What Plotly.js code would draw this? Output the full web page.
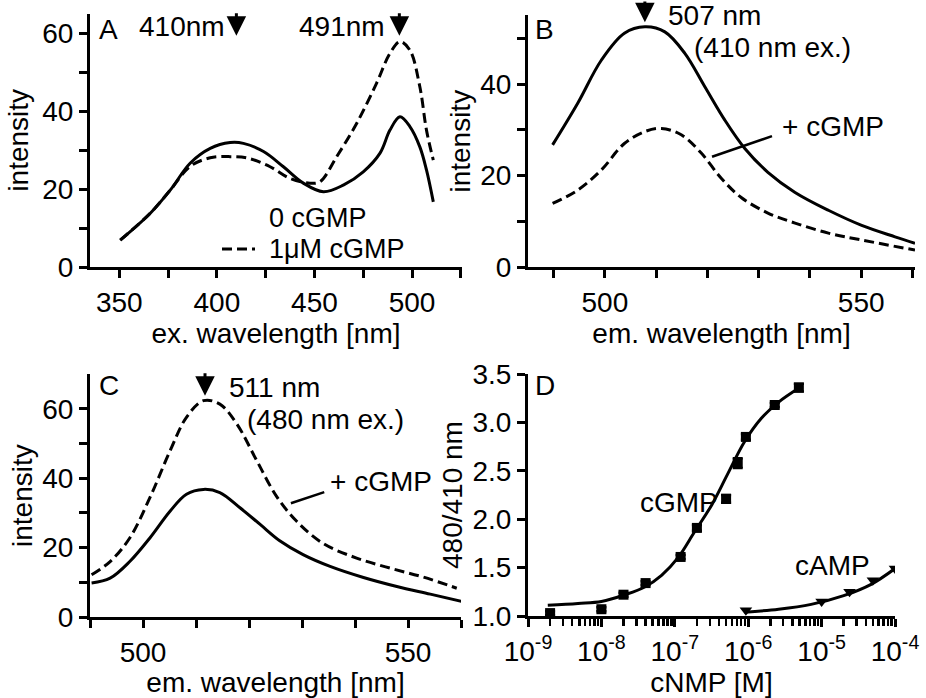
<!DOCTYPE html>
<html><head><meta charset="utf-8">
<script src="https://cdn.plot.ly/plotly-3.0.1.min.js"></script>
<style>html,body{margin:0;padding:0;background:#fff}#chart{width:926px;height:698px}</style>
</head><body><div id="chart"></div>
<script>
// ---- Panel A: excitation spectra ----
const exWavelength0 = [350.5,365.9,376.1,386.3,396.6,406.8,413.6,423.9,434.1,444.3,454.6,464.8,475.0,483.6,488.7,493.8,498.9,504.0,507.4,510.9];
const exIntensity0  = [6.9,13.8,19.7,26.6,30.4,31.9,31.7,29.6,25.7,21.5,19.3,21.0,24.4,29.2,35.1,38.5,36.0,30.8,24.9,16.7];
const exWavelength1 = [350.5,365.9,376.1,386.3,396.6,406.8,416.0,427.3,437.5,447.7,452.9,461.4,471.6,481.8,488.7,493.8,498.9,504.0,507.4,510.9];
const exIntensity1  = [6.9,13.8,19.7,25.8,28.0,28.3,27.9,25.7,22.7,21.5,21.9,28.3,36.8,47.1,54.8,57.8,55.6,46.2,35.1,27.4];
const exPeaks = [410, 493.5];
const axATickVals = [350,375,400,425,450,475,500,525];
const axATickText = ['350','','400','','450','','500',''];
const intTickVals = [0,10,20,30,40,50,60];
const intTickText = ['0','','20','','40','','60'];
const intTickValsB = [0,10,20,30,40,50];
const intTickTextB = ['0','','20','','40',''];

// ---- Panel B: emission, 410 nm excitation ----
const emB_x0 = [489.8,494.7,499.3,503.8,507.8,511.7,515.6,519.5,523.4,527.3,531.8,537.1,543.6,550.1,556.6,560.5];
const emB_y0 = [26.7,35.8,45.2,51.1,52.5,51.4,46.7,39.4,32.1,25.9,20.7,16.3,12.4,9.1,6.6,5.2];
const emB_x1 = [489.8,494.7,499.3,503.8,507.8,511.0,514.9,518.8,522.7,526.6,531.8,537.1,543.6,550.1,560.5];
const emB_y1 = [13.9,16.8,21.2,27.0,29.6,30.3,28.9,24.9,19.4,15.2,11.8,9.6,7.4,5.9,3.7];
const emBPeak = 507.8;
const emTickVals = [490,500,510,520,530,540,550,560];
const emTickText = ['','500','','','','','550',''];

// ---- Panel C: emission, 480 nm excitation ----
const emC_x0 = [490.3,493.8,497.5,501.3,505.1,508.2,511.4,514.5,518.3,522.1,525.8,530.2,535.3,541.6,547.9,554.2,560.4];
const emC_y0 = [9.8,11.2,16.0,22.8,30.5,35.4,36.8,35.9,31.5,26.7,22.0,18.0,14.6,11.4,8.8,6.6,4.4];
const emC_x1 = [490.3,493.8,497.5,501.3,505.1,508.2,511.4,514.5,517.7,521.5,525.2,529.0,534.0,540.3,546.6,552.9,559.2];
const emC_y1 = [12.2,16.0,22.8,34.4,47.9,57.6,62.4,61.4,55.7,45.0,34.8,27.6,21.2,17.0,14.1,11.5,8.3];
const emCPeak = 511.7;

// ---- Panel D: titration ----
const cGMPconc  = [2e-9,1e-8,2e-8,4e-8,1.2e-7,2e-7,5e-7,7.2e-7,9.3e-7,2.3e-6,4.9e-6];
const cGMPratio = [1.03,1.07,1.22,1.34,1.61,1.91,2.21,2.58,2.85,3.18,3.36];
const cGMPerr   = [0.02,0.02,0.02,0.02,0.02,0.03,0.04,0.05,0.03,0.02,0.04];
const cGMPfitX  = [1.86e-9,4.8e-9,1e-8,2.1e-8,3.9e-8,6.6e-8,1.1e-7,1.86e-7,3.2e-7,5.2e-7,8.9e-7,1.5e-6,2.6e-6,4.8e-6];
const cGMPfitY  = [1.11,1.13,1.15,1.22,1.30,1.42,1.60,1.87,2.15,2.46,2.80,3.04,3.21,3.35];
const cAMPconc  = [9.3e-7,1e-5,2.4e-5,5e-5,1e-4];
const cAMPratio = [1.06,1.15,1.25,1.37,1.49];
const cAMPfitX  = [8.9e-7,2.6e-6,7.2e-6,2.0e-5,4.8e-5,1.0e-4];
const cAMPfitY  = [1.04,1.07,1.12,1.21,1.33,1.49];
const logTickVals = [1e-9,1e-8,1e-7,1e-6,1e-5,1e-4];
const logTickText = ['10<sup>-9</sup>','10<sup>-8</sup>','10<sup>-7</sup>','10<sup>-6</sup>','10<sup>-5</sup>','10<sup>-4</sup>'];

const FONT = 'Liberation Sans, Arial, sans-serif';
const FS = 28;
const W = 926, H = 698;
const PX = x => x / W, PY = y => 1 - y / H;

const solid = {color:'#000', width:3, shape:'spline', smoothing:1};
const dashed = {color:'#000', width:3, dash:'10px,5px', shape:'spline', smoothing:1};

const traces = [
  {x:exWavelength0, y:exIntensity0, mode:'lines', line:solid, xaxis:'x', yaxis:'y'},
  {x:exWavelength1, y:exIntensity1, mode:'lines', line:dashed, xaxis:'x', yaxis:'y'},
  {x:emB_x0, y:emB_y0, mode:'lines', line:solid, xaxis:'x2', yaxis:'y2'},
  {x:emB_x1, y:emB_y1, mode:'lines', line:dashed, xaxis:'x2', yaxis:'y2'},
  {x:emC_x0, y:emC_y0, mode:'lines', line:solid, xaxis:'x3', yaxis:'y3'},
  {x:emC_x1, y:emC_y1, mode:'lines', line:dashed, xaxis:'x3', yaxis:'y3'},
  {x:cGMPfitX, y:cGMPfitY, mode:'lines', line:{color:'#000', width:3, shape:'spline', smoothing:1}, xaxis:'x4', yaxis:'y4'},
  {x:cAMPfitX, y:cAMPfitY, mode:'lines', line:{color:'#000', width:3, shape:'spline', smoothing:1}, xaxis:'x4', yaxis:'y4'},
  {x:cGMPconc, y:cGMPratio, mode:'markers', marker:{symbol:'square', size:10, color:'#000'},
   error_y:{type:'data', array:cGMPerr, visible:true, color:'#000', thickness:2.5, width:5}, xaxis:'x4', yaxis:'y4'},
  {x:cAMPconc, y:cAMPratio, mode:'markers', marker:{symbol:'triangle-down', size:11, color:'#000'}, xaxis:'x4', yaxis:'y4'}
];

function ax(extra){
  return Object.assign({
    showline:true, linewidth:3, linecolor:'#000', ticks:'outside', ticklen:8, tickwidth:3, tickcolor:'#000',
    showgrid:false, zeroline:false, tickfont:{family:FONT, size:FS, color:'#000'}, automargin:false, fixedrange:true
  }, extra);
}
const ttl = (t, s) => ({text:t, font:{family:FONT, size:FS, color:'#000'}, standoff:s});

const layout = {
  width:W, height:H, margin:{l:0,r:0,t:0,b:0}, showlegend:false,
  paper_bgcolor:'#fff', plot_bgcolor:'rgba(0,0,0,0)', font:{family:FONT, size:FS, color:'#000'},
  xaxis: ax({domain:[PX(90),PX(462)], range:[335,525.6], tickmode:'array', tickvals:axATickVals, ticktext:axATickText, anchor:'y', title:ttl('ex. wavelength [nm]', 6)}),
  yaxis: ax({domain:[PY(267),PY(13.5)], range:[0,65], tickmode:'array', tickvals:intTickVals, ticktext:intTickText, anchor:'x', title:ttl('intensity', 6)}),
  xaxis2: ax({domain:[PX(528),PX(915)], range:[485,560.5], tickmode:'array', tickvals:emTickVals, ticktext:emTickText, anchor:'y2', title:ttl('em. wavelength [nm]', 2)}),
  yaxis2: ax({domain:[PY(267),PY(15.4)], range:[0,55], tickmode:'array', tickvals:intTickValsB, ticktext:intTickTextB, anchor:'x2', title:ttl('intensity', 2)}),
  xaxis3: ax({domain:[PX(90),PX(461)], range:[490,560], tickmode:'array', tickvals:emTickVals, ticktext:emTickText, anchor:'y3', title:ttl('em. wavelength [nm]', 2)}),
  yaxis3: ax({domain:[PY(617),PY(374.3)], range:[0,70], tickmode:'array', tickvals:intTickVals, ticktext:intTickText, anchor:'x3', title:ttl('intensity', 2)}),
  xaxis4: ax({domain:[PX(528),PX(895)], type:'log', range:[-9,-4], tickmode:'array', tickvals:logTickVals, ticktext:logTickText,
              minor:{ticks:'outside', ticklen:7, tickwidth:2.5, tickcolor:'#000', dtick:'D1', showgrid:false}, anchor:'y4', title:ttl('cNMP [M]', 2)}),
  yaxis4: ax({domain:[PY(616),PY(374)], range:[1,3.5], dtick:0.5, tick0:1, tickformat:'.1f', anchor:'x4', title:ttl('480/410 nm', 2)}),
  shapes: [
    {type:'line', xref:'paper', yref:'paper', x0:PX(222), x1:PX(255), y0:PY(249), y1:PY(249), line:{color:'#000', width:3, dash:'10px,5px'}},
    {type:'line', xref:'x2', yref:'y2', x0:520.9, x1:532.6, y0:24.1, y1:28.6, line:{color:'#000', width:2.5}},
    {type:'line', xref:'x3', yref:'y3', x0:527.9, x1:534.2, y0:32.8, y1:36.0, line:{color:'#000', width:2.5}}
  ],
  annotations: []
};

const A = layout.annotations;
function txt(t, x, y, xanchor, fs){ A.push({text:t, xref:'paper', yref:'paper', x:PX(x), y:PY(y), xanchor:xanchor||'center', yanchor:'middle', showarrow:false, font:{family:FONT, size:fs||FS, color:'#000'}}); }
function arrow(xr, yr, xv, yv){ A.push({text:'', xref:xr, yref:yr, x:xv, y:yv, showarrow:true, ax:0, ay:-24, arrowhead:2, arrowsize:1.3, arrowwidth:3, arrowcolor:'#000', standoff:0}); }

txt('A', 108.5, 29); txt('410nm', 137, 26, 'left'); txt('491nm', 297, 26, 'left');
txt('0 cGMP', 267, 218, 'left', 27); txt('1μM cGMP', 267, 249, 'left', 27);
arrow('x','y', exPeaks[0], 59.3); arrow('x','y', exPeaks[1], 59.3);
txt('B', 544.5, 29); txt('507 nm', 666, 16, 'left'); txt('(410 nm ex.)', 692, 48, 'left'); txt('+ cGMP', 780, 127, 'left');
arrow('x2','y2', emBPeak, 53.5);
txt('C', 109, 385); txt('511 nm', 227, 387.5, 'left'); txt('(480 nm ex.)', 245, 419.5, 'left'); txt('+ cGMP', 328, 481.5, 'left');
arrow('x3','y3', emCPeak, 63.8);
txt('D', 544.5, 385); txt('cGMP', 638, 502, 'left'); txt('cAMP', 793, 565, 'left');

Plotly.newPlot('chart', traces, layout, {displayModeBar:false, staticPlot:true});
</script></body></html>
